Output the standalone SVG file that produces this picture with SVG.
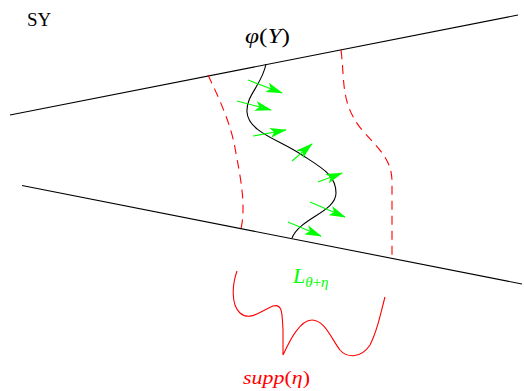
<svg xmlns="http://www.w3.org/2000/svg" width="524" height="391" viewBox="0 0 524 391">
<style>
.ln{stroke:#000;stroke-width:1.1;fill:none}
.dash{stroke:#f00;stroke-width:1.1;fill:none;stroke-dasharray:9,6}
.red{stroke:#f00;stroke-width:1.1;fill:none}
.gr{stroke:#0f0;stroke-width:1.1;fill:none;marker-end:url(#ah)}
.t{font-family:"Liberation Serif","DejaVu Serif",serif}
.it{font-family:"Liberation Serif","DejaVu Serif",serif;font-style:italic}
.up{font-style:normal}
</style>
<defs>
<marker id="ah" viewBox="0 0 17 10" refX="16" refY="5" markerWidth="17" markerHeight="10" markerUnits="userSpaceOnUse" orient="auto">
<path d="M0,0 L17,5 L0,10 L4,5 Z" fill="#0f0"/>
</marker>
</defs>
<g id="lines">
<line class="ln" x1="10" y1="115" x2="518" y2="15"/>
<line class="ln" x1="22" y1="185.5" x2="522" y2="284"/>
</g>
<g id="curve">
<path class="ln" d="M266,64 C262,85 246,95 247,112 C248,132 280,140 302,155 C322,168 336,175 336,193 C336,212 300,218 292,238"/>
</g>
<g id="dashed">
<path class="dash" d="M208,75 C220,100 231,125 235,148 C241,180 246,205 241,229"/>
<path class="dash" d="M341,50 C345,80 340,103 362,130 C380,150 392,160 392,182 L392,258"/>
</g>
<g id="arrows">
<line class="gr" x1="248" y1="80" x2="282" y2="93"/>
<line class="gr" x1="237" y1="101" x2="271" y2="110"/>
<line class="gr" x1="253" y1="136" x2="286" y2="130"/>
<line class="gr" x1="292" y1="161" x2="312" y2="144"/>
<line class="gr" x1="318" y1="182" x2="342" y2="173"/>
<line class="gr" x1="310" y1="202" x2="345" y2="217"/>
<line class="gr" x1="288" y1="222" x2="321" y2="236"/>
</g>
<g id="supp">
<path class="red" d="M237,271 C232,285 231,305 240,313 C250,322 262,310 273,306 C283,303 282,315 283,330 L283,355 C290,340 300,320 312,320 C325,320 332,340 340,350 C346,357 360,360 370,345 C378,330 380,315 385,297"/>
</g>
<g id="labels">
<text class="t" x="27" y="26" font-size="19">SY</text>
<text class="it" x="245" y="43" font-size="20" textLength="45" lengthAdjust="spacingAndGlyphs">φ<tspan class="up">(</tspan>Y<tspan class="up">)</tspan></text>
<text class="it" x="293" y="283" font-size="22" fill="#0f0">L<tspan font-size="15" dy="4">θ</tspan><tspan font-size="15" class="up">+</tspan><tspan font-size="15">η</tspan></text>
<text class="it" x="243" y="384" font-size="18" fill="#f00" textLength="67" lengthAdjust="spacingAndGlyphs">supp<tspan class="up">(</tspan>η<tspan class="up">)</tspan></text>
</g>
</svg>
